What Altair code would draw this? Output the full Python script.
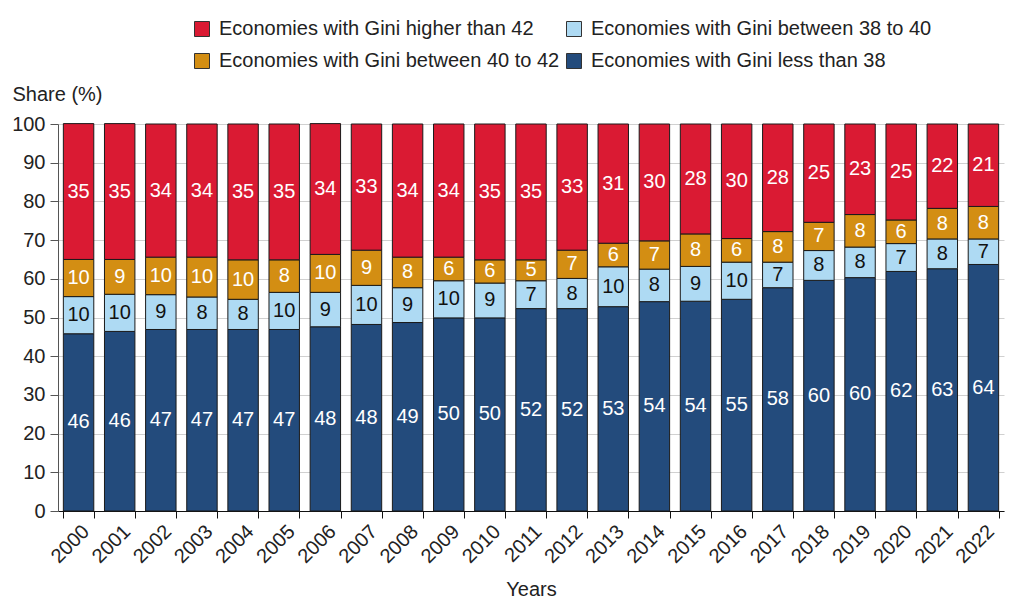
import altair as alt
import pandas as pd

years = ["2000", "2001", "2002", "2003", "2004", "2005", "2006", "2007", "2008", "2009",
         "2010", "2011", "2012", "2013", "2014", "2015", "2016", "2017", "2018", "2019",
         "2020", "2021", "2022"]

gini_below_38 = [45.8, 46.4, 46.9, 46.9, 46.9, 46.9, 47.6, 48.2, 48.7, 49.9, 49.9, 52.3,
                 52.3, 52.8, 54.1, 54.2, 54.7, 57.7, 59.6, 60.3, 61.9, 62.6, 63.7]
gini_38_40 = [9.6, 9.6, 9.0, 8.4, 7.8, 9.6, 8.9, 10.1, 9.0, 9.6, 9.0, 7.2,
              7.8, 10.3, 8.4, 9.0, 9.6, 6.6, 7.7, 7.9, 7.2, 7.7, 6.6]
gini_40_42 = [9.6, 9.0, 9.7, 10.3, 10.2, 8.4, 9.8, 9.1, 7.9, 6.1, 6.0, 5.4,
              7.3, 6.1, 7.3, 8.4, 6.1, 7.9, 7.3, 8.4, 6.1, 7.9, 8.4]
gini_above_42 = [35.1, 35.1, 34.4, 34.4, 35.1, 35.1, 33.8, 32.6, 34.4, 34.4, 35.1, 35.1,
                 32.6, 30.8, 30.2, 28.4, 29.6, 27.8, 25.4, 23.4, 24.8, 21.8, 21.3]

series_names = [
    "Economies with Gini less than 38",
    "Economies with Gini between 38 to 40",
    "Economies with Gini between 40 to 42",
    "Economies with Gini higher than 42",
]
series_values = [gini_below_38, gini_38_40, gini_40_42, gini_above_42]
series_colors = ["#234B7C", "#AEDAF3", "#D38E13", "#DA1A33"]

# legend fills column by column: col 1 = red, orange ; col 2 = light blue, dark blue
legend_order = [series_names[3], series_names[2], series_names[1], series_names[0]]
legend_colors = [series_colors[3], series_colors[2], series_colors[1], series_colors[0]]

rows = []
for k, (name, vals) in enumerate(zip(series_names, series_values)):
    for yr, v in zip(years, vals):
        rows.append({"year": yr, "series": name, "order": k, "value": v})
df = pd.DataFrame(rows)

FONT = "Liberation Sans"
FS = 20

base = alt.Chart(df).transform_stack(
    stack="value",
    groupby=["year"],
    as_=["y0", "y1"],
    sort=[alt.SortField("order", order="ascending")],
).transform_calculate(mid="(datum.y0 + datum.y1) / 2")

x_scale = alt.Scale(paddingInner=0.26, paddingOuter=0.13)
x_axis = alt.Axis(
    title="Years",
    labelAngle=-45,
    tickBand="extent",
    domainColor="#111111",
    tickColor="#111111",
    tickSize=7,
    labelPadding=3,
    titlePadding=13,
    labelFontSize=FS,
    titleFontSize=FS,
    labelColor="#222222",
    titleColor="#222222",
    titleFontWeight="normal",
    labelFont=FONT,
    titleFont=FONT,
    labelOverlap=False,
)

y_scale = alt.Scale(domain=[0, 100])
y_axis = alt.Axis(
    values=list(range(0, 101, 10)),
    title="Share (%)",
    titleAngle=0,
    titleAlign="left",
    titleBaseline="alphabetic",
    titleX=-46,
    titleY=-24,
    titleFontWeight="normal",
    titleFontSize=FS,
    titleFont=FONT,
    titleColor="#222222",
    labelFontSize=FS,
    labelFont=FONT,
    labelColor="#222222",
    labelPadding=5,
    labelOverlap=False,
    tickSize=8,
    tickColor="#555555",
    domainColor="#555555",
    grid=True,
    gridColor="#d0d0d0",
)

bars = base.mark_bar(stroke="#1a1a1a", strokeWidth=1).encode(
    x=alt.X("year:N", sort=years, scale=x_scale, axis=x_axis),
    y=alt.Y("y0:Q", scale=y_scale, axis=y_axis),
    y2="y1:Q",
    color=alt.Color(
        "series:N",
        scale=alt.Scale(domain=legend_order, range=legend_colors),
        legend=alt.Legend(
            title=None,
            orient="none",
            legendX=134,
            legendY=-105,
            padding=0,
            columns=2,
            symbolType="square",
            symbolSize=225,
            symbolStrokeColor="#333333",
            symbolStrokeWidth=1,
            labelFontSize=FS,
            labelFont=FONT,
            labelColor="#222222",
            labelLimit=500,
            labelOffset=7,
            rowPadding=12,
            columnPadding=4,
        ),
    ),
)

text = base.mark_text(fontSize=FS, font=FONT, baseline="middle").encode(
    x=alt.X("year:N", sort=years, scale=x_scale, axis=x_axis),
    y=alt.Y("mid:Q", scale=y_scale, axis=y_axis),
    text=alt.Text("value:Q", format=".0f"),
    color=alt.condition(
        alt.datum.series == series_names[1], alt.value("#111111"), alt.value("#ffffff")
    ),
)

chart = (
    alt.layer(bars, text)
    .properties(
        width=946,
        height=387,
        autosize=alt.AutoSizeParams(type="none"),
        padding={"left": 50, "top": 116, "right": 2, "bottom": 92},
        background="white",
    )
    .configure_view(stroke=None)
)

chart.save("out.html", embed_options={"renderer": "svg", "actions": False})
